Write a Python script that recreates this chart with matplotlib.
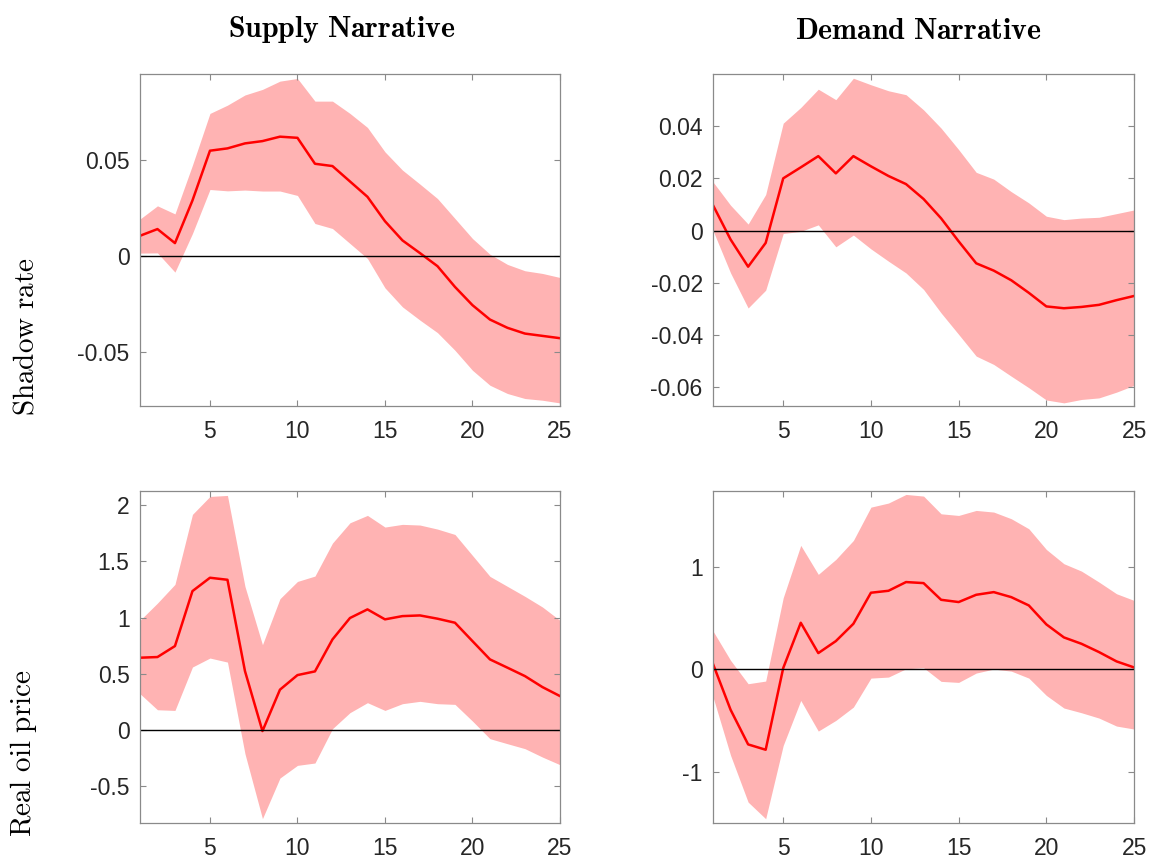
import matplotlib
matplotlib.use("Agg")
import matplotlib.pyplot as plt
from matplotlib.ticker import FuncFormatter

plt.rcParams['font.family'] = ['Liberation Sans', 'DejaVu Sans']
plt.rcParams['mathtext.fontset'] = 'cm'
plt.rcParams['axes.unicode_minus'] = False

horizon = list(range(1, 26))

# shadow rate response, supply narrative
supply_rate_med = [0.0106, 0.0141, 0.0068, 0.0290, 0.0549, 0.0561, 0.0587, 0.0599, 0.0622, 0.0616,
                   0.0481, 0.0469, 0.0389, 0.0309, 0.0182, 0.0082, 0.0016, -0.0052, -0.0160, -0.0255,
                   -0.0330, -0.0373, -0.0403, -0.0415, -0.0427]
supply_rate_hi = [0.0193, 0.0262, 0.0220, 0.0474, 0.0743, 0.0786, 0.0839, 0.0868, 0.0911, 0.0925,
                  0.0807, 0.0807, 0.0743, 0.0670, 0.0543, 0.0448, 0.0375, 0.0300, 0.0196, 0.0092,
                  0.0010, -0.0043, -0.0076, -0.0090, -0.0111]
supply_rate_lo = [0.0016, 0.0017, -0.0083, 0.0118, 0.0347, 0.0340, 0.0344, 0.0339, 0.0339, 0.0316,
                  0.0170, 0.0144, 0.0066, -0.0012, -0.0165, -0.0264, -0.0333, -0.0398, -0.0490, -0.0594,
                  -0.0672, -0.0715, -0.0741, -0.0750, -0.0764]

# shadow rate response, demand narrative
demand_rate_med = [0.0097, -0.0034, -0.0138, -0.0047, 0.0200, 0.0242, 0.0285, 0.0219, 0.0285, 0.0246,
                   0.0209, 0.0178, 0.0121, 0.0047, -0.0041, -0.0125, -0.0153, -0.0190, -0.0238, -0.0290,
                   -0.0297, -0.0292, -0.0284, -0.0266, -0.0250]
demand_rate_hi = [0.0186, 0.0097, 0.0025, 0.0138, 0.0411, 0.0471, 0.0541, 0.0501, 0.0583, 0.0558,
                  0.0535, 0.0520, 0.0462, 0.0392, 0.0310, 0.0223, 0.0197, 0.0149, 0.0106, 0.0055,
                  0.0042, 0.0048, 0.0051, 0.0065, 0.0079]
demand_rate_lo = [0.0000, -0.0162, -0.0296, -0.0228, -0.0011, -0.0003, 0.0022, -0.0062, -0.0017, -0.0070,
                  -0.0117, -0.0162, -0.0225, -0.0315, -0.0397, -0.0480, -0.0512, -0.0557, -0.0601, -0.0648,
                  -0.0659, -0.0646, -0.0640, -0.0618, -0.0592]

# real oil price response, supply narrative
supply_oil_med = [0.642, 0.648, 0.746, 1.236, 1.355, 1.337, 0.523, -0.012, 0.357, 0.487,
                  0.520, 0.805, 0.996, 1.073, 0.984, 1.013, 1.019, 0.990, 0.954, 0.790,
                  0.627, 0.553, 0.478, 0.380, 0.300]
supply_oil_hi = [0.975, 1.129, 1.296, 1.920, 2.080, 2.089, 1.278, 0.758, 1.168, 1.322,
                 1.370, 1.664, 1.845, 1.911, 1.807, 1.831, 1.825, 1.789, 1.741, 1.554,
                 1.367, 1.278, 1.189, 1.094, 0.975]
supply_oil_lo = [0.321, 0.178, 0.172, 0.559, 0.639, 0.603, -0.214, -0.793, -0.431, -0.318,
                 -0.297, 0.009, 0.152, 0.241, 0.172, 0.232, 0.253, 0.232, 0.226, 0.077,
                 -0.080, -0.125, -0.169, -0.244, -0.312]

# real oil price response, demand narrative
demand_oil_med = [0.049, -0.397, -0.735, -0.787, 0.010, 0.452, 0.156, 0.273, 0.442, 0.745,
                  0.764, 0.849, 0.839, 0.676, 0.654, 0.725, 0.751, 0.702, 0.621, 0.436,
                  0.309, 0.247, 0.166, 0.075, 0.016]
demand_oil_hi = [0.371, 0.085, -0.143, -0.117, 0.696, 1.207, 0.924, 1.070, 1.255, 1.580,
                 1.620, 1.704, 1.688, 1.515, 1.499, 1.548, 1.532, 1.467, 1.369, 1.167,
                 1.028, 0.956, 0.849, 0.735, 0.670]
demand_oil_lo = [-0.273, -0.842, -1.298, -1.460, -0.745, -0.306, -0.605, -0.501, -0.371, -0.088,
                 -0.078, 0.003, 0.013, -0.120, -0.130, -0.039, 0.000, -0.020, -0.088, -0.257,
                 -0.380, -0.426, -0.478, -0.556, -0.585]

titles = ['Supply Narrative', 'Demand Narrative']
row_labels = ['Shadow rate', 'Real oil price']

panels = [
    (supply_rate_med, supply_rate_lo, supply_rate_hi, (-0.078, 0.0948), [-0.05, 0, 0.05]),
    (demand_rate_med, demand_rate_lo, demand_rate_hi, (-0.0671, 0.0599), [-0.06, -0.04, -0.02, 0, 0.02, 0.04]),
    (supply_oil_med, supply_oil_lo, supply_oil_hi, (-0.832, 2.128), [-0.5, 0, 0.5, 1, 1.5, 2]),
    (demand_oil_med, demand_oil_lo, demand_oil_hi, (-1.502, 1.737), [-1, 0, 1]),
]

# axes rectangles in figure fractions: left, bottom, width, height
rects = [
    [0.1216, 0.5279, 0.3649, 0.386],
    [0.6195, 0.5279, 0.3658, 0.386],
    [0.1216, 0.0430, 0.3649, 0.386],
    [0.6195, 0.0430, 0.3658, 0.386],
]
title_x = [0.481, 0.487]
title_pad = [27, 25]

fig = plt.figure(figsize=(11.51, 8.6), dpi=100)
edge = '#8a8a8a'

for k, (med, lo, hi, ylim, yticks) in enumerate(panels):
    ax = fig.add_axes(rects[k])
    ax.fill_between(horizon, lo, hi, color='#ffb3b3', linewidth=0)
    ax.plot(horizon, med, color='#ff0000', linewidth=1.8)
    ax.axhline(0, color='black', linewidth=1.0)
    ax.set_xlim(1, 25)
    ax.set_ylim(*ylim)
    ax.set_xticks([5, 10, 15, 20, 25])
    ax.set_yticks(yticks)
    ax.yaxis.set_major_formatter(FuncFormatter(lambda v, p: '%g' % v))
    ax.tick_params(direction='in', top=True, right=True, length=4, width=0.8,
                   color=edge, labelsize=16.5, labelcolor='#262626')
    ax.tick_params(axis='x', pad=10)
    ax.tick_params(axis='y', pad=7.5)
    for s in ax.spines.values():
        s.set_color(edge)
        s.set_linewidth(0.9)
    if k < 2:
        t = ax.set_title(r'$\mathbf{%s}$' % titles[k].replace(' ', r'\ '), fontsize=21.5, pad=title_pad[k])
        t.set_x(title_x[k])
    if k % 2 == 0:
        ax.set_ylabel(r'$\mathrm{%s}$' % row_labels[k // 2].replace(' ', r'\ '), fontsize=21)
        ax.yaxis.set_label_coords(-0.24, 0.21)

fig.savefig('out.png', dpi=100)
